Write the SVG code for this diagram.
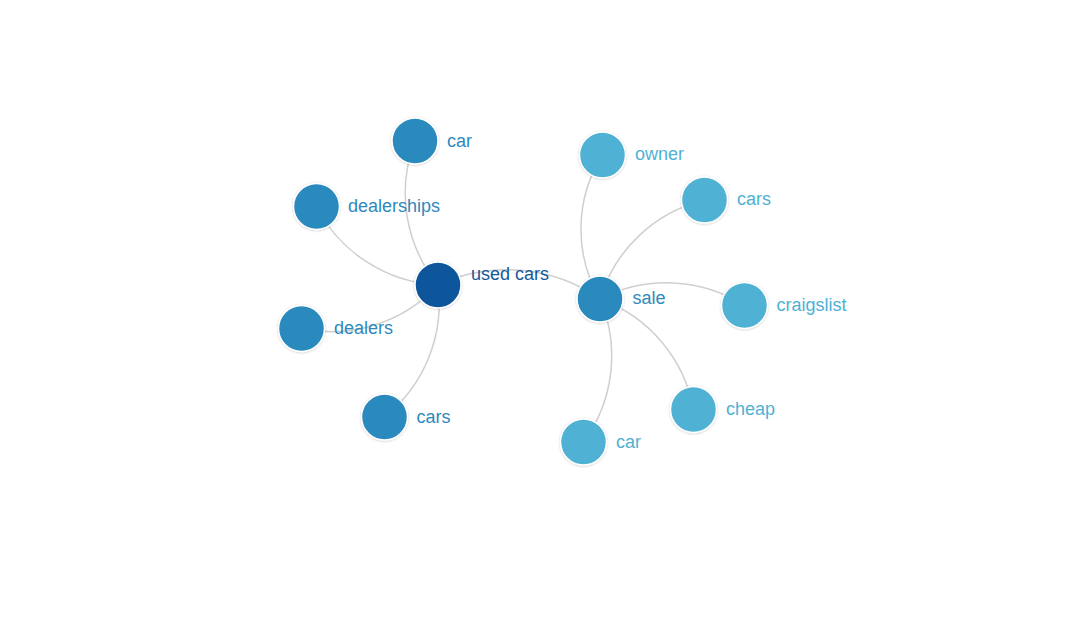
<svg xmlns="http://www.w3.org/2000/svg" width="1070" height="641" viewBox="0 0 1070 641">
<defs>
<filter id="sh" x="-30%" y="-30%" width="160%" height="160%">
<feDropShadow dx="0" dy="0.5" stdDeviation="1.2" flood-color="#000" flood-opacity="0.22"/>
</filter>
</defs>
<style>
.link{fill:none;stroke:#cfcfcf;stroke-width:1.5}
.node circle{stroke:#fff;stroke-width:1.5;filter:url(#sh)}
.node text{font-family:"Liberation Sans",Arial,sans-serif;font-size:18px}
.c0 circle{fill:#0f579b}.c0 text{fill:#15599b}
.c1 circle{fill:#2c89bd}.c1 text{fill:#3089bd}
.c2 circle{fill:#4fb1d4}.c2 text{fill:#4fb1d4}
</style>
<rect width="1070" height="641" fill="#fff"/>
<g id="links">
<path class="link" d="M438,285 A145,145 0 0,1 415,141"/>
<path class="link" d="M438,285 A145,145 0 0,1 316.5,206.5"/>
<path class="link" d="M438,285 A145,145 0 0,1 301.5,328.5"/>
<path class="link" d="M438,285 A145,145 0 0,1 384.5,417"/>
<path class="link" d="M438,285 A163,163 0 0,1 600,299"/>
<path class="link" d="M600,299 A138,138 0 0,1 602.5,155"/>
<path class="link" d="M600,299 A145,145 0 0,1 704.5,200"/>
<path class="link" d="M600,299 A145,145 0 0,1 744.5,305.5"/>
<path class="link" d="M600,299 A145,145 0 0,1 693.5,409.5"/>
<path class="link" d="M600,299 A145,145 0 0,1 583.5,442"/>
</g>
<g id="n-car-l" class="node c1"><circle cx="415" cy="141" r="23"/><text x="447" y="147">car</text></g>
<g id="n-dealerships" class="node c1"><circle cx="316.5" cy="206.5" r="23"/><text x="348" y="212">dealerships</text></g>
<g id="n-dealers" class="node c1"><circle cx="301.5" cy="328.5" r="23"/><text x="334" y="334">dealers</text></g>
<g id="n-cars-l" class="node c1"><circle cx="384.5" cy="417" r="23"/><text x="416.5" y="423">cars</text></g>
<g id="n-usedcars" class="node c0"><circle cx="438" cy="285" r="23"/><text x="471" y="280">used cars</text></g>
<g id="n-sale" class="node c1"><circle cx="600" cy="299" r="23"/><text x="632.5" y="304">sale</text></g>
<g id="n-owner" class="node c2"><circle cx="602.5" cy="155" r="23"/><text x="635" y="160">owner</text></g>
<g id="n-cars-r" class="node c2"><circle cx="704.5" cy="200" r="23"/><text x="737" y="205">cars</text></g>
<g id="n-craigslist" class="node c2"><circle cx="744.5" cy="305.5" r="23"/><text x="776.5" y="311">craigslist</text></g>
<g id="n-cheap" class="node c2"><circle cx="693.5" cy="409.5" r="23"/><text x="726" y="415">cheap</text></g>
<g id="n-car-r" class="node c2"><circle cx="583.5" cy="442" r="23"/><text x="616" y="448">car</text></g>
</svg>
